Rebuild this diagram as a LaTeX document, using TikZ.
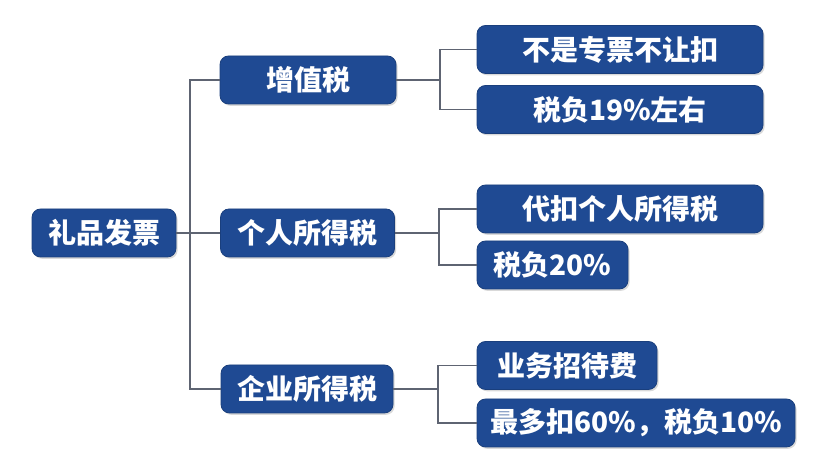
\documentclass[tikz,border=0pt]{standalone}
\usepackage{fontspec}
\usepackage{tikz}
\usetikzlibrary{positioning,shadows}
\setmainfont{Noto Sans CJK SC}
\definecolor{navy}{HTML}{1F4A93}
\definecolor{wire}{HTML}{5E6472}

\begin{document}
\begin{tikzpicture}[x=0.5pt,y=-0.5pt,
  box/.style={draw=navy!85!black,line width=0.4pt,rounded corners=1.5mm,fill=navy,text=white,
    font=\fontsize{14}{16}\selectfont\bfseries,minimum height=24pt,inner sep=0pt,
    drop shadow={shadow xshift=0.8pt,shadow yshift=-0.9pt,opacity=0.3}},
  link/.style={draw=wire,line width=0.8pt}]
\useasboundingbox (0,0) rectangle (826,458);
% root and first level
\node[box,minimum width=72pt] (gift) at (104,233) {礼品发票};
\node[box,minimum width=88pt] (vat) at (308,80) {增值税};
\node[box,minimum width=87pt] (pit) at (307.5,233) {个人所得税};
\node[box,minimum width=86pt] (cit) at (307,389) {企业所得税};
% leaves
\node[box,minimum width=143pt] (vat1) at (620,49.5) {不是专票不让扣};
\node[box,minimum width=143pt] (vat2) at (620,109.5) {税负19\%左右};
\node[box,minimum width=143pt] (pit1) at (620,209) {代扣个人所得税};
\node[box,minimum width=75.5pt] (pit2) at (552.5,265) {税负20\%};
\node[box,minimum width=90pt] (cit1) at (567,365.5) {业务招待费};
\node[box,minimum width=159pt] (cit2) at (636,423) {最多扣60\%，税负10\%};
% junctions
\coordinate (j0) at (190,233);
\coordinate (j1) at (440,80);
\coordinate (j2) at (439,233);
\coordinate (j3) at (438,389);
\draw[link] (gift) -- (j0);
\draw[link] (j0) |- (vat);
\draw[link] (j0) -- (pit);
\draw[link] (j0) |- (cit);
\draw[link] (vat) -- (j1);
\draw[link] (j1) |- (vat1);
\draw[link] (j1) |- (vat2);
\draw[link] (pit) -- (j2);
\draw[link] (j2) |- (pit1);
\draw[link] (j2) |- (pit2);
\draw[link] (cit) -- (j3);
\draw[link] (j3) |- (cit1);
\draw[link] (j3) |- (cit2);
\end{tikzpicture}
\end{document}
